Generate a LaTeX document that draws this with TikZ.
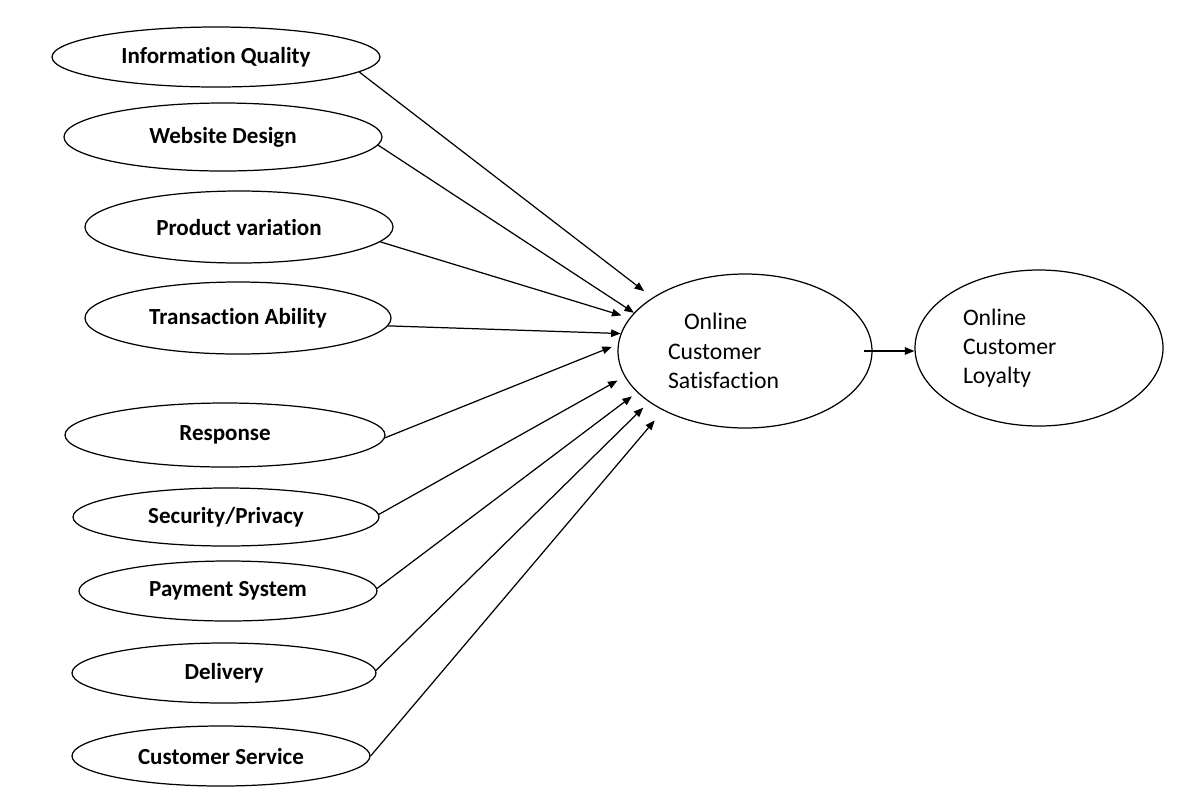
\documentclass[tikz,border=0pt]{standalone}
\usepackage{fontspec}
\setmainfont[Ligatures=NoCommon]{Carlito}
\usetikzlibrary{shapes.geometric,arrows.meta}
\begin{document}
\begin{tikzpicture}[>={Triangle[length=0.19cm,width=0.15cm]}, line width=0.7pt,
  factor/.style={draw, ellipse, inner sep=0pt, font=\fontsize{13.1}{15}\selectfont\bfseries},
  outcome/.style={draw, ellipse, inner sep=0pt, align=left, font=\fontsize{13.5}{16.6}\selectfont}]
\useasboundingbox (0,0) rectangle (23.8,-15.92);
\node[factor, minimum width=6.56cm, minimum height=1.2cm] (iq) at (4.32,-1.14) {Information Quality};
\node[factor, minimum width=6.36cm, minimum height=1.36cm] (wd) at (4.46,-2.74) {Website Design};
\node[factor, minimum width=6.16cm, minimum height=1.44cm] (pv) at (4.78,-4.54) {Product variation};
\node[factor, minimum width=6.12cm, minimum height=1.44cm] (ta) at (4.76,-6.36) {Transaction Ability};
\node[factor, minimum width=6.4cm, minimum height=1.28cm] (rs) at (4.5,-8.7) {Response};
\node[factor, minimum width=6.12cm, minimum height=1.16cm] (sp) at (4.52,-10.34) {Security/Privacy};
\node[factor, minimum width=5.96cm, minimum height=1.2cm] (ps) at (4.56,-11.82) {Payment System};
\node[factor, minimum width=6.08cm, minimum height=1.2cm] (dl) at (4.48,-13.46) {Delivery};
\node[factor, minimum width=5.96cm, minimum height=1.2cm] (cs) at (4.42,-15.12) {Customer Service};
\node[outcome, minimum width=5.08cm, minimum height=3.08cm, text width=3.08cm] (sat) at (14.9,-7.02) {\hspace*{0.32cm}Online\\Customer\\Satisfaction\\[-0.2cm]};
\node[outcome, minimum width=4.96cm, minimum height=3.12cm, text width=3.04cm] (loy) at (20.78,-6.96) {Online\\Customer\\Loyalty\\[-0.2cm]};
\draw[->, shorten >=0.21cm] (iq.-6) -- (sat.150);
\draw[->] (wd.-3) -- (sat.161);
\draw[->, shorten >=0.17cm] (pv.-6) -- (sat.164);
\draw[->] (ta.-3) -- (sat.172);
\draw[->, shorten >=0.13cm] (rs.-1) -- (sat.177);
\draw[->, shorten >=0.16cm] (sp.1) -- (sat.192);
\draw[->, shorten >=0.13cm] (ps.1) -- (sat.201);
\draw[->, shorten >=0.16cm] (dl.1) -- (sat.208);
\draw[->, shorten >=0.26cm] (cs.0) -- (sat.216);
\draw[->, shorten <=-0.18cm] (sat.east) -- (sat.east -| loy.west);
\end{tikzpicture}
\end{document}
